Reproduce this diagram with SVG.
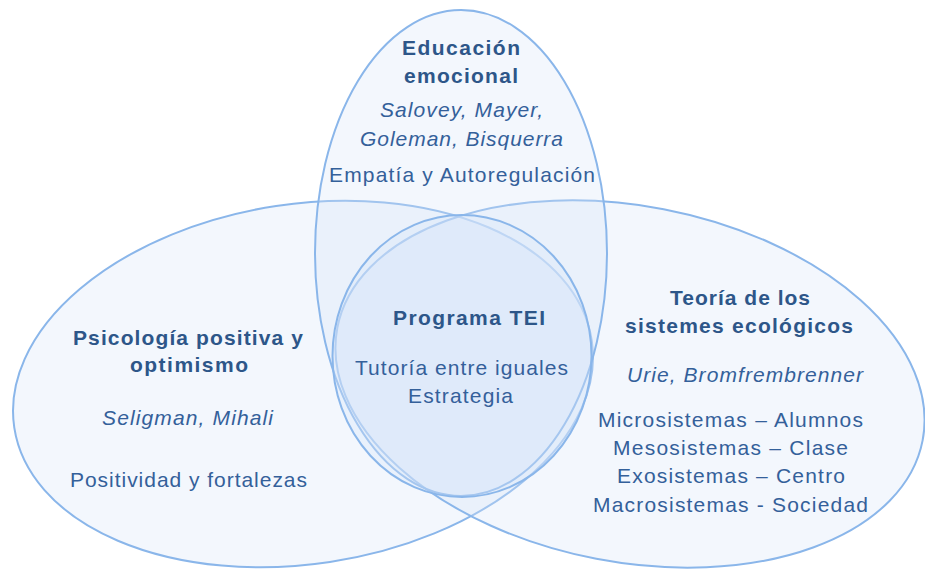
<svg xmlns="http://www.w3.org/2000/svg" width="925" height="569" viewBox="0 0 925 569">
<style>
  .shape { fill: #D6E6FA; fill-opacity: 0.3; stroke: #8AB6EA; stroke-width: 2; }
  .core { fill: #D6E6FA; fill-opacity: 0.35; stroke: #8AB6EA; stroke-width: 2; }
  text { font-family: "Liberation Sans", Arial, sans-serif; font-size: 21px; fill: #34609A; text-anchor: middle; }
  .t { font-weight: bold; fill: #2D5689; }
  .a { font-style: italic; }
</style>
<rect width="925" height="569" fill="#FFFFFF"/>
<g id="psicologia">
  <ellipse class="shape" cx="303" cy="384" rx="292" ry="180" transform="rotate(-8.6 303 384)"/>
</g>
<g id="teoria">
  <ellipse class="shape" cx="630" cy="384" rx="298" ry="178" transform="rotate(10.9 630 384)"/>
</g>
<g id="educacion">
  <ellipse class="shape" cx="461" cy="253" rx="146" ry="243"/>
</g>
<g id="programa">
  <ellipse class="core" cx="462" cy="356" rx="129.5" ry="141"/>
</g>
<g id="connectors"></g>
<g id="labels-educacion">
  <text class="t" x="461" y="55" textLength="118" lengthAdjust="spacing">Educación</text>
  <text class="t" x="461" y="83" textLength="114" lengthAdjust="spacing">emocional</text>
  <text class="a" x="461.5" y="117" textLength="163" lengthAdjust="spacing">Salovey, Mayer,</text>
  <text class="a" x="461.5" y="146" textLength="203" lengthAdjust="spacing">Goleman, Bisquerra</text>
  <text x="462" y="182" textLength="266" lengthAdjust="spacing">Empatía y Autoregulación</text>
</g>
<g id="labels-psicologia">
  <text class="t" x="188" y="345" textLength="230" lengthAdjust="spacing">Psicología positiva y</text>
  <text class="t" x="189" y="372" textLength="118" lengthAdjust="spacing">optimismo</text>
  <text class="a" x="187.5" y="425" textLength="171" lengthAdjust="spacing">Seligman, Mihali</text>
  <text x="188.5" y="487" textLength="237" lengthAdjust="spacing">Positividad y fortalezas</text>
</g>
<g id="labels-programa">
  <text class="t" x="469" y="325" textLength="152" lengthAdjust="spacing">Programa TEI</text>
  <text x="461.5" y="375" textLength="213" lengthAdjust="spacing">Tutoría entre iguales</text>
  <text x="460.5" y="403" textLength="105" lengthAdjust="spacing">Estrategia</text>
</g>
<g id="labels-teoria">
  <text class="t" x="740" y="305" textLength="140" lengthAdjust="spacing">Teoría de los</text>
  <text class="t" x="739" y="333" textLength="228" lengthAdjust="spacing">sistemes ecológicos</text>
  <text class="a" x="745" y="382" textLength="236" lengthAdjust="spacing">Urie, Bromfrembrenner</text>
  <text x="730.5" y="427" textLength="265" lengthAdjust="spacing">Microsistemas – Alumnos</text>
  <text x="730.5" y="455" textLength="235" lengthAdjust="spacing">Mesosistemas – Clase</text>
  <text x="731" y="483" textLength="228" lengthAdjust="spacing">Exosistemas – Centro</text>
  <text x="730.5" y="512" textLength="275" lengthAdjust="spacing">Macrosistemas - Sociedad</text>
</g>
</svg>
